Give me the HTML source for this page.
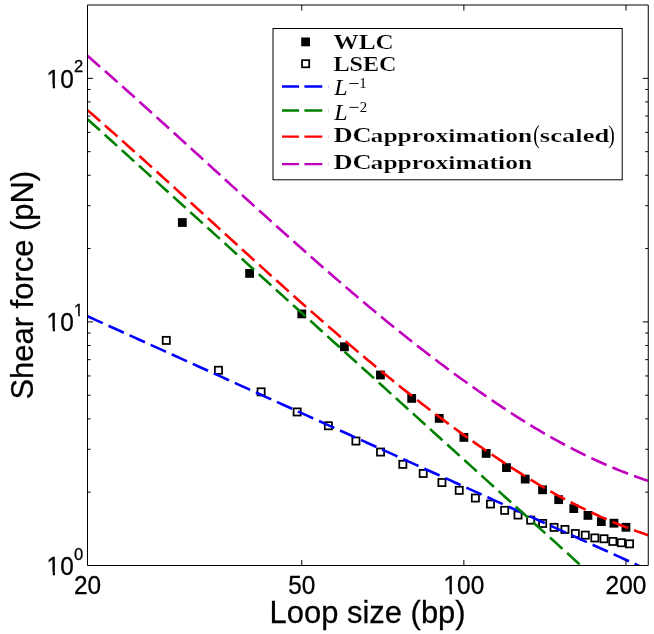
<!DOCTYPE html>
<html><head><meta charset="utf-8"><title>Shear force vs loop size</title>
<style>html,body{margin:0;padding:0;background:#fff}svg{display:block;will-change:transform}</style></head>
<body><svg width="654" height="634" viewBox="0 0 654 634">
<rect width="654" height="634" fill="#fff"/>
<defs><clipPath id="c"><rect x="87.5" y="5.0" width="561.25" height="561.0"/></clipPath></defs>
<g clip-path="url(#c)">
<g fill="#000"><rect x="177.92" y="218.10" width="8.80" height="8.80"/><rect x="245.19" y="269.00" width="8.80" height="8.80"/><rect x="297.38" y="309.50" width="8.80" height="8.80"/><rect x="340.01" y="342.40" width="8.80" height="8.80"/><rect x="376.06" y="370.60" width="8.80" height="8.80"/><rect x="407.29" y="394.00" width="8.80" height="8.80"/><rect x="434.83" y="414.00" width="8.80" height="8.80"/><rect x="459.47" y="433.00" width="8.80" height="8.80"/><rect x="481.76" y="449.00" width="8.80" height="8.80"/><rect x="502.10" y="463.20" width="8.80" height="8.80"/><rect x="520.82" y="474.70" width="8.80" height="8.80"/><rect x="538.15" y="485.40" width="8.80" height="8.80"/><rect x="554.29" y="495.25" width="8.80" height="8.80"/><rect x="569.38" y="504.20" width="8.80" height="8.80"/><rect x="583.56" y="511.00" width="8.80" height="8.80"/><rect x="596.92" y="517.20" width="8.80" height="8.80"/><rect x="609.57" y="518.80" width="8.80" height="8.80"/><rect x="621.56" y="522.90" width="8.80" height="8.80"/></g>
<g fill="#fff" stroke="#000" stroke-width="1.75"><rect x="162.71" y="336.82" width="7.15" height="7.15"/><rect x="214.89" y="366.68" width="7.15" height="7.15"/><rect x="257.53" y="388.27" width="7.15" height="7.15"/><rect x="293.58" y="408.38" width="7.15" height="7.15"/><rect x="324.80" y="422.18" width="7.15" height="7.15"/><rect x="352.35" y="437.47" width="7.15" height="7.15"/><rect x="376.98" y="448.47" width="7.15" height="7.15"/><rect x="399.27" y="460.77" width="7.15" height="7.15"/><rect x="419.62" y="469.88" width="7.15" height="7.15"/><rect x="438.34" y="478.97" width="7.15" height="7.15"/><rect x="455.67" y="486.77" width="7.15" height="7.15"/><rect x="471.80" y="494.47" width="7.15" height="7.15"/><rect x="486.90" y="500.47" width="7.15" height="7.15"/><rect x="501.07" y="506.77" width="7.15" height="7.15"/><rect x="514.44" y="511.47" width="7.15" height="7.15"/><rect x="527.08" y="516.57" width="7.15" height="7.15"/><rect x="539.08" y="519.87" width="7.15" height="7.15"/><rect x="550.49" y="523.82" width="7.15" height="7.15"/><rect x="561.37" y="525.87" width="7.15" height="7.15"/><rect x="571.76" y="529.97" width="7.15" height="7.15"/><rect x="581.71" y="531.57" width="7.15" height="7.15"/><rect x="591.26" y="534.37" width="7.15" height="7.15"/><rect x="600.43" y="535.17" width="7.15" height="7.15"/><rect x="609.26" y="537.87" width="7.15" height="7.15"/><rect x="617.76" y="539.17" width="7.15" height="7.15"/><rect x="625.97" y="540.27" width="7.15" height="7.15"/></g>
<g fill="none" stroke-width="2.6" stroke-dasharray="16.8 6.3">
<path d="M87.50 316.25 L90.32 317.52 L93.14 318.80 L95.95 320.07 L98.77 321.35 L101.59 322.62 L104.41 323.90 L107.22 325.17 L110.04 326.45 L112.86 327.72 L115.68 329.00 L118.50 330.27 L121.31 331.55 L124.13 332.82 L126.95 334.10 L129.77 335.37 L132.59 336.64 L135.40 337.92 L138.22 339.19 L141.04 340.47 L143.86 341.74 L146.67 343.02 L149.49 344.29 L152.31 345.57 L155.13 346.84 L157.95 348.12 L160.76 349.39 L163.58 350.67 L166.40 351.94 L169.22 353.22 L172.04 354.49 L174.85 355.77 L177.67 357.04 L180.49 358.32 L183.31 359.59 L186.12 360.86 L188.94 362.14 L191.76 363.41 L194.58 364.69 L197.40 365.96 L200.21 367.24 L203.03 368.51 L205.85 369.79 L208.67 371.06 L211.48 372.34 L214.30 373.61 L217.12 374.89 L219.94 376.16 L222.76 377.44 L225.57 378.71 L228.39 379.99 L231.21 381.26 L234.03 382.53 L236.85 383.81 L239.66 385.08 L242.48 386.36 L245.30 387.63 L248.12 388.91 L250.93 390.18 L253.75 391.46 L256.57 392.73 L259.39 394.01 L262.21 395.28 L265.02 396.56 L267.84 397.83 L270.66 399.11 L273.48 400.38 L276.30 401.66 L279.11 402.93 L281.93 404.21 L284.75 405.48 L287.57 406.75 L290.38 408.03 L293.20 409.30 L296.02 410.58 L298.84 411.85 L301.66 413.13 L304.47 414.40 L307.29 415.68 L310.11 416.95 L312.93 418.23 L315.74 419.50 L318.56 420.78 L321.38 422.05 L324.20 423.33 L327.02 424.60 L329.83 425.88 L332.65 427.15 L335.47 428.42 L338.29 429.70 L341.11 430.97 L343.92 432.25 L346.74 433.52 L349.56 434.80 L352.38 436.07 L355.19 437.35 L358.01 438.62 L360.83 439.90 L363.65 441.17 L366.47 442.45 L369.28 443.72 L372.10 445.00 L374.92 446.27 L377.74 447.55 L380.56 448.82 L383.37 450.10 L386.19 451.37 L389.01 452.64 L391.83 453.92 L394.64 455.19 L397.46 456.47 L400.28 457.74 L403.10 459.02 L405.92 460.29 L408.73 461.57 L411.55 462.84 L414.37 464.12 L417.19 465.39 L420.01 466.67 L422.82 467.94 L425.64 469.22 L428.46 470.49 L431.28 471.77 L434.09 473.04 L436.91 474.31 L439.73 475.59 L442.55 476.86 L445.37 478.14 L448.18 479.41 L451.00 480.69 L453.82 481.96 L456.64 483.24 L459.45 484.51 L462.27 485.79 L465.09 487.06 L467.91 488.34 L470.73 489.61 L473.54 490.89 L476.36 492.16 L479.18 493.44 L482.00 494.71 L484.82 495.98 L487.63 497.26 L490.45 498.53 L493.27 499.81 L496.09 501.08 L498.90 502.36 L501.72 503.63 L504.54 504.91 L507.36 506.18 L510.18 507.46 L512.99 508.73 L515.81 510.01 L518.63 511.28 L521.45 512.56 L524.27 513.83 L527.08 515.11 L529.90 516.38 L532.72 517.66 L535.54 518.93 L538.35 520.20 L541.17 521.48 L543.99 522.75 L546.81 524.03 L549.63 525.30 L552.44 526.58 L555.26 527.85 L558.08 529.13 L560.90 530.40 L563.71 531.68 L566.53 532.95 L569.35 534.23 L572.17 535.50 L574.99 536.78 L577.80 538.05 L580.62 539.33 L583.44 540.60 L586.26 541.87 L589.08 543.15 L591.89 544.42 L594.71 545.70 L597.53 546.97 L600.35 548.25 L603.16 549.52 L605.98 550.80 L608.80 552.07 L611.62 553.35 L614.44 554.62 L617.25 555.90 L620.07 557.17 L622.89 558.45 L625.71 559.72 L628.53 561.00 L631.34 562.27 L634.16 563.55 L636.98 564.82 L639.80 566.09 L642.61 567.37 L645.43 568.64 L648.25 569.92" stroke="#0000ff"/>
<path d="M87.50 119.13 L90.32 121.67 L93.14 124.22 L95.95 126.77 L98.77 129.32 L101.59 131.87 L104.41 134.42 L107.22 136.97 L110.04 139.52 L112.86 142.07 L115.68 144.62 L118.50 147.17 L121.31 149.72 L124.13 152.27 L126.95 154.82 L129.77 157.37 L132.59 159.92 L135.40 162.47 L138.22 165.02 L141.04 167.56 L143.86 170.11 L146.67 172.66 L149.49 175.21 L152.31 177.76 L155.13 180.31 L157.95 182.86 L160.76 185.41 L163.58 187.96 L166.40 190.51 L169.22 193.06 L172.04 195.61 L174.85 198.16 L177.67 200.71 L180.49 203.26 L183.31 205.81 L186.12 208.36 L188.94 210.91 L191.76 213.45 L194.58 216.00 L197.40 218.55 L200.21 221.10 L203.03 223.65 L205.85 226.20 L208.67 228.75 L211.48 231.30 L214.30 233.85 L217.12 236.40 L219.94 238.95 L222.76 241.50 L225.57 244.05 L228.39 246.60 L231.21 249.15 L234.03 251.70 L236.85 254.25 L239.66 256.80 L242.48 259.34 L245.30 261.89 L248.12 264.44 L250.93 266.99 L253.75 269.54 L256.57 272.09 L259.39 274.64 L262.21 277.19 L265.02 279.74 L267.84 282.29 L270.66 284.84 L273.48 287.39 L276.30 289.94 L279.11 292.49 L281.93 295.04 L284.75 297.59 L287.57 300.14 L290.38 302.69 L293.20 305.23 L296.02 307.78 L298.84 310.33 L301.66 312.88 L304.47 315.43 L307.29 317.98 L310.11 320.53 L312.93 323.08 L315.74 325.63 L318.56 328.18 L321.38 330.73 L324.20 333.28 L327.02 335.83 L329.83 338.38 L332.65 340.93 L335.47 343.48 L338.29 346.03 L341.11 348.58 L343.92 351.12 L346.74 353.67 L349.56 356.22 L352.38 358.77 L355.19 361.32 L358.01 363.87 L360.83 366.42 L363.65 368.97 L366.47 371.52 L369.28 374.07 L372.10 376.62 L374.92 379.17 L377.74 381.72 L380.56 384.27 L383.37 386.82 L386.19 389.37 L389.01 391.92 L391.83 394.46 L394.64 397.01 L397.46 399.56 L400.28 402.11 L403.10 404.66 L405.92 407.21 L408.73 409.76 L411.55 412.31 L414.37 414.86 L417.19 417.41 L420.01 419.96 L422.82 422.51 L425.64 425.06 L428.46 427.61 L431.28 430.16 L434.09 432.71 L436.91 435.26 L439.73 437.81 L442.55 440.35 L445.37 442.90 L448.18 445.45 L451.00 448.00 L453.82 450.55 L456.64 453.10 L459.45 455.65 L462.27 458.20 L465.09 460.75 L467.91 463.30 L470.73 465.85 L473.54 468.40 L476.36 470.95 L479.18 473.50 L482.00 476.05 L484.82 478.60 L487.63 481.15 L490.45 483.70 L493.27 486.24 L496.09 488.79 L498.90 491.34 L501.72 493.89 L504.54 496.44 L507.36 498.99 L510.18 501.54 L512.99 504.09 L515.81 506.64 L518.63 509.19 L521.45 511.74 L524.27 514.29 L527.08 516.84 L529.90 519.39 L532.72 521.94 L535.54 524.49 L538.35 527.04 L541.17 529.59 L543.99 532.13 L546.81 534.68 L549.63 537.23 L552.44 539.78 L555.26 542.33 L558.08 544.88 L560.90 547.43 L563.71 549.98 L566.53 552.53 L569.35 555.08 L572.17 557.63 L574.99 560.18 L577.80 562.73 L580.62 565.28 L583.44 567.83 L586.26 570.38 L589.08 572.93 L591.89 575.48 L594.71 578.02 L597.53 580.57 L600.35 583.12 L603.16 585.67 L605.98 588.22 L608.80 590.77 L611.62 593.32 L614.44 595.87 L617.25 598.42 L620.07 600.97 L622.89 603.52 L625.71 606.07 L628.53 608.62 L631.34 611.17 L634.16 613.72 L636.98 616.27 L639.80 618.82 L642.61 621.37 L645.43 623.91 L648.25 626.46" stroke="#008000"/>
<path d="M87.50 110.17 L90.32 112.62 L93.14 115.07 L95.95 117.53 L98.77 120.00 L101.59 122.47 L104.41 124.94 L107.22 127.42 L110.04 129.90 L112.86 132.39 L115.68 134.89 L118.50 137.39 L121.31 139.89 L124.13 142.39 L126.95 144.91 L129.77 147.42 L132.59 149.94 L135.40 152.46 L138.22 154.99 L141.04 157.52 L143.86 160.05 L146.67 162.59 L149.49 165.12 L152.31 167.67 L155.13 170.21 L157.95 172.76 L160.76 175.31 L163.58 177.86 L166.40 180.41 L169.22 182.97 L172.04 185.53 L174.85 188.09 L177.67 190.65 L180.49 193.21 L183.31 195.78 L186.12 198.34 L188.94 200.91 L191.76 203.48 L194.58 206.04 L197.40 208.61 L200.21 211.18 L203.03 213.75 L205.85 216.32 L208.67 218.89 L211.48 221.46 L214.30 224.04 L217.12 226.61 L219.94 229.18 L222.76 231.75 L225.57 234.31 L228.39 236.88 L231.21 239.45 L234.03 242.01 L236.85 244.58 L239.66 247.14 L242.48 249.70 L245.30 252.27 L248.12 254.82 L250.93 257.38 L253.75 259.94 L256.57 262.49 L259.39 265.04 L262.21 267.59 L265.02 270.13 L267.84 272.67 L270.66 275.21 L273.48 277.75 L276.30 280.28 L279.11 282.81 L281.93 285.34 L284.75 287.87 L287.57 290.39 L290.38 292.90 L293.20 295.41 L296.02 297.92 L298.84 300.43 L301.66 302.93 L304.47 305.42 L307.29 307.91 L310.11 310.40 L312.93 312.88 L315.74 315.36 L318.56 317.83 L321.38 320.29 L324.20 322.75 L327.02 325.21 L329.83 327.66 L332.65 330.10 L335.47 332.54 L338.29 334.97 L341.11 337.39 L343.92 339.81 L346.74 342.22 L349.56 344.63 L352.38 347.03 L355.19 349.42 L358.01 351.81 L360.83 354.18 L363.65 356.55 L366.47 358.92 L369.28 361.27 L372.10 363.62 L374.92 365.96 L377.74 368.29 L380.56 370.62 L383.37 372.93 L386.19 375.24 L389.01 377.54 L391.83 379.83 L394.64 382.11 L397.46 384.38 L400.28 386.64 L403.10 388.90 L405.92 391.14 L408.73 393.38 L411.55 395.60 L414.37 397.82 L417.19 400.02 L420.01 402.22 L422.82 404.41 L425.64 406.58 L428.46 408.75 L431.28 410.90 L434.09 413.04 L436.91 415.18 L439.73 417.30 L442.55 419.41 L445.37 421.51 L448.18 423.60 L451.00 425.68 L453.82 427.74 L456.64 429.79 L459.45 431.84 L462.27 433.86 L465.09 435.88 L467.91 437.89 L470.73 439.88 L473.54 441.86 L476.36 443.84 L479.18 445.81 L482.00 447.76 L484.82 449.71 L487.63 451.65 L490.45 453.58 L493.27 455.50 L496.09 457.40 L498.90 459.30 L501.72 461.18 L504.54 463.05 L507.36 464.90 L510.18 466.75 L512.99 468.58 L515.81 470.39 L518.63 472.19 L521.45 473.97 L524.27 475.74 L527.08 477.50 L529.90 479.23 L532.72 480.95 L535.54 482.65 L538.35 484.33 L541.17 486.00 L543.99 487.64 L546.81 489.27 L549.63 490.88 L552.44 492.46 L555.26 494.03 L558.08 495.57 L560.90 497.10 L563.71 498.60 L566.53 500.09 L569.35 501.56 L572.17 503.02 L574.99 504.45 L577.80 505.87 L580.62 507.27 L583.44 508.65 L586.26 510.02 L589.08 511.37 L591.89 512.69 L594.71 514.00 L597.53 515.30 L600.35 516.57 L603.16 517.82 L605.98 519.06 L608.80 520.27 L611.62 521.47 L614.44 522.65 L617.25 523.81 L620.07 524.94 L622.89 526.06 L625.71 527.16 L628.53 528.24 L631.34 529.30 L634.16 530.33 L636.98 531.35 L639.80 532.35 L642.61 533.33 L645.43 534.28 L648.25 535.21" stroke="#ff0000"/>
<path d="M87.50 55.82 L90.32 58.27 L93.14 60.72 L95.95 63.18 L98.77 65.65 L101.59 68.12 L104.41 70.59 L107.22 73.07 L110.04 75.55 L112.86 78.04 L115.68 80.54 L118.50 83.04 L121.31 85.54 L124.13 88.04 L126.95 90.56 L129.77 93.07 L132.59 95.59 L135.40 98.11 L138.22 100.64 L141.04 103.17 L143.86 105.70 L146.67 108.24 L149.49 110.77 L152.31 113.32 L155.13 115.86 L157.95 118.41 L160.76 120.96 L163.58 123.51 L166.40 126.06 L169.22 128.62 L172.04 131.18 L174.85 133.74 L177.67 136.30 L180.49 138.86 L183.31 141.43 L186.12 143.99 L188.94 146.56 L191.76 149.13 L194.58 151.69 L197.40 154.26 L200.21 156.83 L203.03 159.40 L205.85 161.97 L208.67 164.54 L211.48 167.11 L214.30 169.69 L217.12 172.26 L219.94 174.83 L222.76 177.40 L225.57 179.96 L228.39 182.53 L231.21 185.10 L234.03 187.66 L236.85 190.23 L239.66 192.79 L242.48 195.35 L245.30 197.92 L248.12 200.47 L250.93 203.03 L253.75 205.59 L256.57 208.14 L259.39 210.69 L262.21 213.24 L265.02 215.78 L267.84 218.32 L270.66 220.86 L273.48 223.40 L276.30 225.93 L279.11 228.46 L281.93 230.99 L284.75 233.52 L287.57 236.04 L290.38 238.55 L293.20 241.06 L296.02 243.57 L298.84 246.08 L301.66 248.58 L304.47 251.07 L307.29 253.56 L310.11 256.05 L312.93 258.53 L315.74 261.01 L318.56 263.48 L321.38 265.94 L324.20 268.40 L327.02 270.86 L329.83 273.31 L332.65 275.75 L335.47 278.19 L338.29 280.62 L341.11 283.04 L343.92 285.46 L346.74 287.87 L349.56 290.28 L352.38 292.68 L355.19 295.07 L358.01 297.46 L360.83 299.83 L363.65 302.20 L366.47 304.57 L369.28 306.92 L372.10 309.27 L374.92 311.61 L377.74 313.94 L380.56 316.27 L383.37 318.58 L386.19 320.89 L389.01 323.19 L391.83 325.48 L394.64 327.76 L397.46 330.03 L400.28 332.29 L403.10 334.55 L405.92 336.79 L408.73 339.03 L411.55 341.25 L414.37 343.47 L417.19 345.67 L420.01 347.87 L422.82 350.06 L425.64 352.23 L428.46 354.40 L431.28 356.55 L434.09 358.69 L436.91 360.83 L439.73 362.95 L442.55 365.06 L445.37 367.16 L448.18 369.25 L451.00 371.33 L453.82 373.39 L456.64 375.44 L459.45 377.49 L462.27 379.51 L465.09 381.53 L467.91 383.54 L470.73 385.53 L473.54 387.51 L476.36 389.49 L479.18 391.46 L482.00 393.41 L484.82 395.36 L487.63 397.30 L490.45 399.23 L493.27 401.15 L496.09 403.05 L498.90 404.95 L501.72 406.83 L504.54 408.70 L507.36 410.55 L510.18 412.40 L512.99 414.23 L515.81 416.04 L518.63 417.84 L521.45 419.62 L524.27 421.39 L527.08 423.15 L529.90 424.88 L532.72 426.60 L535.54 428.30 L538.35 429.98 L541.17 431.65 L543.99 433.29 L546.81 434.92 L549.63 436.53 L552.44 438.11 L555.26 439.68 L558.08 441.22 L560.90 442.75 L563.71 444.25 L566.53 445.74 L569.35 447.21 L572.17 448.67 L574.99 450.10 L577.80 451.52 L580.62 452.92 L583.44 454.30 L586.26 455.67 L589.08 457.02 L591.89 458.34 L594.71 459.65 L597.53 460.95 L600.35 462.22 L603.16 463.47 L605.98 464.71 L608.80 465.92 L611.62 467.12 L614.44 468.30 L617.25 469.46 L620.07 470.59 L622.89 471.71 L625.71 472.81 L628.53 473.89 L631.34 474.95 L634.16 475.98 L636.98 477.00 L639.80 478.00 L642.61 478.98 L645.43 479.93 L648.25 480.86" stroke="#bf00bf"/>
</g>
</g>
<g stroke="#000" stroke-width="1" fill="none"><path d="M301.78 565.50v-5.50 M301.78 5.00v5.50"/><path d="M463.87 565.50v-5.50 M463.87 5.00v5.50"/><path d="M625.96 565.50v-5.50 M625.96 5.00v5.50"/><path d="M87.50 492.17h3.00 M648.25 492.17h-3.00"/><path d="M87.50 449.28h3.00 M648.25 449.28h-3.00"/><path d="M87.50 418.85h3.00 M648.25 418.85h-3.00"/><path d="M87.50 395.24h3.00 M648.25 395.24h-3.00"/><path d="M87.50 375.95h3.00 M648.25 375.95h-3.00"/><path d="M87.50 359.65h3.00 M648.25 359.65h-3.00"/><path d="M87.50 345.52h3.00 M648.25 345.52h-3.00"/><path d="M87.50 333.06h3.00 M648.25 333.06h-3.00"/><path d="M87.50 321.91h5.50 M648.25 321.91h-5.50"/><path d="M87.50 248.59h3.00 M648.25 248.59h-3.00"/><path d="M87.50 205.69h3.00 M648.25 205.69h-3.00"/><path d="M87.50 175.26h3.00 M648.25 175.26h-3.00"/><path d="M87.50 151.65h3.00 M648.25 151.65h-3.00"/><path d="M87.50 132.37h3.00 M648.25 132.37h-3.00"/><path d="M87.50 116.06h3.00 M648.25 116.06h-3.00"/><path d="M87.50 101.93h3.00 M648.25 101.93h-3.00"/><path d="M87.50 89.47h3.00 M648.25 89.47h-3.00"/><path d="M87.50 78.33h5.50 M648.25 78.33h-5.50"/>
<path d="M87.5 5.0H648.25V565.5H87.5Z"/>
</g>
<!-- tick labels -->
<g font-family="Liberation Sans, sans-serif" fill="#000" stroke="#000" stroke-width="0.3"><text transform="translate(73.93 593.60) scale(1 1.045)" font-size="24.40">20</text><text transform="translate(288.20 593.60) scale(1 1.045)" font-size="24.40">50</text><text transform="translate(443.51 593.60) scale(1 1.045)" font-size="24.40">100</text><rect x="443.51" y="590.47" width="6.10" height="4.88" fill="#fff" stroke="none"/><rect x="451.93" y="590.47" width="5.34" height="4.88" fill="#fff" stroke="none"/><text transform="translate(605.60 593.60) scale(1 1.045)" font-size="24.40">200</text><text transform="translate(46.60 574.90) scale(1 1.045)" font-size="24.40">10</text><rect x="46.60" y="571.77" width="6.10" height="4.88" fill="#fff" stroke="none"/><rect x="55.02" y="571.77" width="5.34" height="4.88" fill="#fff" stroke="none"/><text transform="translate(74.10 559.60) scale(1 1.045)" font-size="16.60">0</text><text transform="translate(46.60 331.31) scale(1 1.045)" font-size="24.40">10</text><rect x="46.60" y="328.19" width="6.10" height="4.88" fill="#fff" stroke="none"/><rect x="55.02" y="328.19" width="5.34" height="4.88" fill="#fff" stroke="none"/><text transform="translate(74.10 316.01) scale(1 1.045)" font-size="16.60">1</text><rect x="74.10" y="313.74" width="4.12" height="4.02" fill="#fff" stroke="none"/><rect x="79.86" y="313.74" width="3.64" height="4.02" fill="#fff" stroke="none"/><text transform="translate(46.60 87.73) scale(1 1.045)" font-size="24.40">10</text><rect x="46.60" y="84.60" width="6.10" height="4.88" fill="#fff" stroke="none"/><rect x="55.02" y="84.60" width="5.34" height="4.88" fill="#fff" stroke="none"/><text transform="translate(74.10 72.43) scale(1 1.045)" font-size="16.60">2</text></g>
<g font-family="Liberation Sans, sans-serif" font-size="30.95" fill="#000" stroke="#000" stroke-width="0.25">
<text transform="translate(367.6 622.6) scale(1 1.035)" text-anchor="middle">Loop size (bp)</text>
<text transform="translate(33.0 285.2) rotate(-90) scale(1 1.03)" text-anchor="middle">Shear force (pN)</text>
</g>
<!-- legend -->
<rect x="273" y="28.5" width="349.2" height="151.3" fill="#fff" stroke="#000" stroke-width="1"/>
<rect x="301.2" y="37.5" width="8.8" height="8.8" fill="#000"/>
<rect x="302.05" y="60.15" width="7.15" height="7.15" fill="#fff" stroke="#000" stroke-width="1.75"/>
<g fill="none" stroke-width="2.35">
<path d="M282 86.45H299.1M304.4 86.45H322.3" stroke="#0000ff"/>
<path d="M282 110.5H299.1M304.4 110.5H322.3" stroke="#008000"/>
<path d="M282 136.65H299.1M304.4 136.65H322.3" stroke="#ff0000"/>
<path d="M282 164.15H299.1M304.4 164.15H322.3" stroke="#bf00bf"/>
</g>
<rect x="328" y="135.1" width="0.9" height="3.2" fill="#ff0000" opacity="0.22"/><rect x="328" y="162.6" width="0.9" height="3.2" fill="#bf00bf" opacity="0.22"/>
<rect x="328" y="84.9" width="0.9" height="3.2" fill="#0000ff" opacity="0.22"/><rect x="328" y="109" width="0.9" height="3.2" fill="#008000" opacity="0.22"/>
<g font-family="Liberation Serif, serif" font-weight="bold" font-size="21.2" fill="#000" stroke="#fff" stroke-width="0.2">
<text x="333.5" y="49.2" font-size="21.9" textLength="60.2" lengthAdjust="spacingAndGlyphs">WLC</text>
<text x="333.5" y="71.3" font-size="21.9" textLength="63.0" lengthAdjust="spacingAndGlyphs">LSEC</text>
<text x="333.5" y="141.8" textLength="38.2" lengthAdjust="spacingAndGlyphs">DC</text><text x="370.6" y="141.8" font-size="19.7" textLength="161.6" lengthAdjust="spacingAndGlyphs">approximation</text>
<text x="333.5" y="169.2" textLength="38.2" lengthAdjust="spacingAndGlyphs">DC</text><text x="370.6" y="169.2" font-size="19.7" textLength="161.6" lengthAdjust="spacingAndGlyphs">approximation</text>
</g>
<g font-family="Liberation Serif, serif" font-size="21.2" fill="#000">
<text transform="translate(533.3 142.9) scale(0.92 1.22)">(</text><text x="539.8" y="141.8" font-weight="bold" font-size="19.7" stroke="#fff" stroke-width="0.2" textLength="69.6" lengthAdjust="spacingAndGlyphs">scaled</text><text transform="translate(608.2 142.9) scale(0.92 1.22)">)</text>
<text transform="translate(334.2 94.9) scale(1.13 1.06)" font-style="italic">L</text>
<text transform="translate(334.2 119.6) scale(1.13 1.06)" font-style="italic">L</text>
</g>
<g font-family="Liberation Serif, serif" font-size="14.8" fill="#000">
<rect x="349.4" y="83.1" width="9.2" height="0.9"/><text x="359.3" y="87.7">1</text>
<rect x="349.4" y="106.9" width="9.2" height="0.9"/><text x="359.8" y="111.8">2</text>
</g>
</svg></body></html>
